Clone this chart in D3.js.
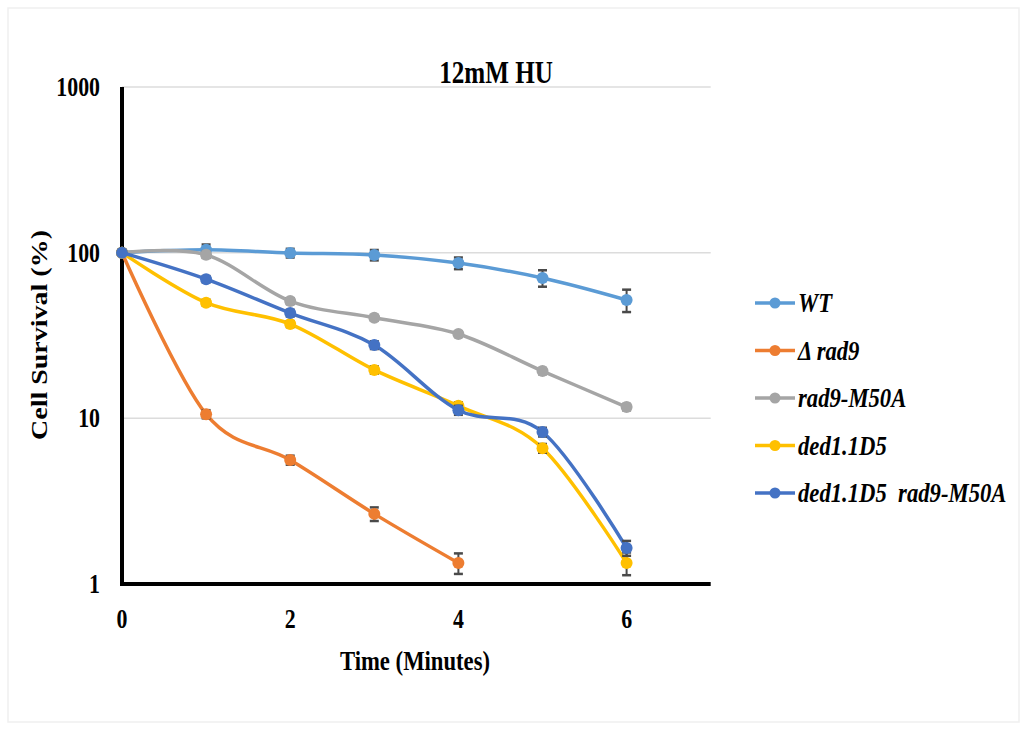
<!DOCTYPE html>
<html>
<head>
<meta charset="utf-8">
<script src="https://cdn.jsdelivr.net/npm/d3@7"></script>
<style>
  body { margin: 0; background: #fff; }
  text { font-family: "Liberation Serif", "Times New Roman", serif; font-weight: bold; }
</style>
</head>
<body>
<div id="chart"></div>
<script>
// data
let times = [0, 1, 2, 3, 4, 5, 6];
let seriesNames = ["WT", "\u0394 rad9", "rad9-M50A", "ded1.1D5", "ded1.1D5  rad9-M50A"];
let seriesColors = ["#5B9BD5", "#ED7D31", "#A5A5A5", "#FFC000", "#4472C4"];

let wtValues = [100, 104, 99.5, 96.8, 86.5, 70.3, 51.8];
let wtErrors = [0, 8, 6, 7, 7, 8, 8];
let rad9Values = [100, 10.6, 5.6, 2.65, 1.34];
let rad9Errors = [0, 0.6, 0.35, 0.25, 0.19];
let m50aValues = [100, 97, 51, 40.5, 32.3, 19.3, 11.7];
let m50aErrors = [0, 4, 2, 1.5, 1.2, 0.8, 0.5];
let dedValues = [100, 49.9, 37.1, 19.6, 11.9, 6.6, 1.34];
let dedErrors = [0, 2, 1.5, 1, 0.6, 0.4, 0.21];
let dedM50aValues = [100, 69.2, 43.2, 27.7, 11.2, 8.27, 1.65];
let dedM50aErrors = [0, 3, 2, 1.5, 0.7, 0.5, 0.17];

let xTicks = [0, 2, 4, 6];
let yTicks = [1, 10, 100, 1000];

let allValues = [wtValues, rad9Values, m50aValues, dedValues, dedM50aValues];
let allErrors = [wtErrors, rad9Errors, m50aErrors, dedErrors, dedM50aErrors];

let width = 1027, height = 729;
let sx = 0.81; // the figure is squeezed horizontally

let svg = d3.select("#chart").append("svg")
    .attr("width", width)
    .attr("height", height);

// faint frame
svg.append("rect")
    .attr("x", 8).attr("y", 8)
    .attr("width", 1011).attr("height", 714)
    .attr("fill", "none")
    .attr("stroke", "#efefef")
    .attr("stroke-width", 1.5);

let x = d3.scaleLinear().domain([0, 7]).range([122, 710.7]);
let y = d3.scaleLog().domain([1, 1000]).range([584, 87]);

function squeezedText(g, px, py, str, size, anchor) {
  return g.append("text")
      .attr("transform", "translate(" + px + "," + py + ") scale(" + sx + ",1)")
      .attr("text-anchor", anchor)
      .style("font-size", size + "px")
      .text(str);
}

// gridlines
svg.append("g")
  .selectAll("line")
  .data(yTicks.slice(1))
  .enter().append("line")
    .attr("x1", x(0)).attr("x2", x(7))
    .attr("y1", function(d) { return y(d); })
    .attr("y2", function(d) { return y(d); })
    .attr("stroke", "#dcdcdc")
    .attr("stroke-width", 1.5);

// axes
svg.append("line")
    .attr("x1", x(0)).attr("x2", x(0))
    .attr("y1", y(1000)).attr("y2", y(1) + 2)
    .attr("stroke", "#000").attr("stroke-width", 4);
svg.append("line")
    .attr("x1", x(0) - 2).attr("x2", x(7))
    .attr("y1", y(1)).attr("y2", y(1))
    .attr("stroke", "#000").attr("stroke-width", 4);

// tick labels
let yLab = svg.append("g");
yTicks.forEach(function(t) {
  squeezedText(yLab, 100, y(t) + 9, d3.format("d")(t), 27, "end");
});
let xLab = svg.append("g");
xTicks.forEach(function(t) {
  squeezedText(xLab, x(t), 628, t, 27, "middle");
});

// titles
squeezedText(svg, 496, 83, "12mM HU", 31, "middle");
squeezedText(svg, 415, 670, "Time (Minutes)", 28, "middle");
svg.append("text")
    .attr("transform", "translate(47,335) rotate(-90) scale(1," + sx + ")")
    .attr("text-anchor", "middle")
    .style("font-size", "28px")
    .text("Cell Survival (%)");

// lines, error bars and markers
let line = d3.line()
    .x(function(d) { return x(d.t); })
    .y(function(d) { return y(d.v); })
    .curve(d3.curveCatmullRom.alpha(0));

allValues.forEach(function(vals, i) {
  let pts = vals.map(function(v, j) { return { t: times[j], v: v, e: allErrors[i][j] }; });
  let g = svg.append("g");

  g.append("path")
      .datum(pts)
      .attr("d", line)
      .attr("fill", "none")
      .attr("stroke", seriesColors[i])
      .attr("stroke-width", 3.5);

  let eb = g.selectAll(".err")
      .data(pts.filter(function(d) { return d.e > 0; }))
      .enter().append("g");
  eb.append("line")
      .attr("x1", function(d) { return x(d.t); })
      .attr("x2", function(d) { return x(d.t); })
      .attr("y1", function(d) { return y(d.v + d.e); })
      .attr("y2", function(d) { return y(d.v - d.e); })
      .attr("stroke", "#4a4a4a").attr("stroke-width", 2);
  eb.selectAll(".cap")
      .data(function(d) { return [d.v + d.e, d.v - d.e].map(function(v) { return { t: d.t, v: v }; }); })
      .enter().append("line")
        .attr("x1", function(d) { return x(d.t) - 4.5; })
        .attr("x2", function(d) { return x(d.t) + 4.5; })
        .attr("y1", function(d) { return y(d.v); })
        .attr("y2", function(d) { return y(d.v); })
        .attr("stroke", "#4a4a4a").attr("stroke-width", 2.5);

  g.selectAll("circle")
      .data(pts)
      .enter().append("circle")
        .attr("cx", function(d) { return x(d.t); })
        .attr("cy", function(d) { return y(d.v); })
        .attr("r", 6)
        .attr("fill", seriesColors[i]);
});

// legend
let legend = svg.selectAll(".legend")
    .data(seriesNames)
    .enter().append("g")
      .attr("class", "legend")
      .attr("transform", function(d, i) { return "translate(0," + (303 + i * 47.5) + ")"; });

legend.append("line")
    .attr("x1", 755).attr("x2", 795)
    .attr("y1", 0).attr("y2", 0)
    .attr("stroke", function(d, i) { return seriesColors[i]; })
    .attr("stroke-width", 3.5);
legend.append("circle")
    .attr("cx", 775).attr("cy", 0).attr("r", 5.5)
    .attr("fill", function(d, i) { return seriesColors[i]; });
legend.append("text")
    .attr("transform", "translate(798,9) scale(" + sx + ",1)")
    .style("font-size", "28px")
    .style("font-style", "italic")
    .style("white-space", "pre")
    .text(function(d) { return d; });
</script>
</body>
</html>
